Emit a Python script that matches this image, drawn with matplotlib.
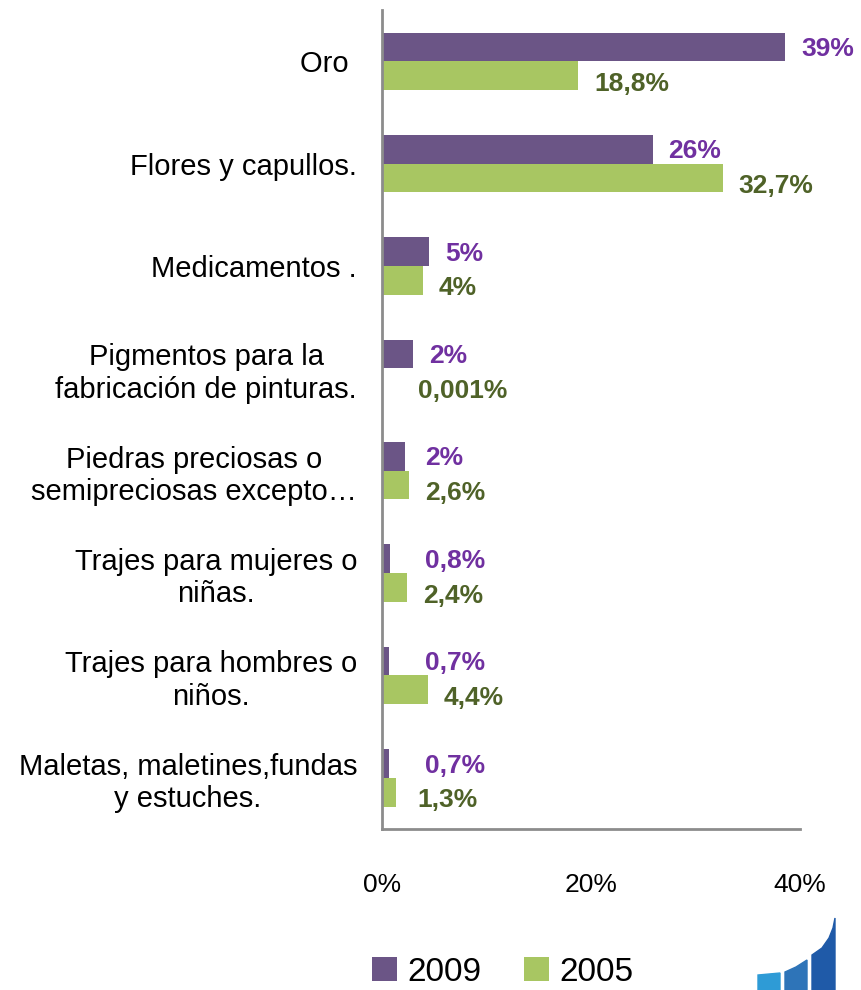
import numpy as np
import matplotlib.pyplot as plt
from matplotlib.patches import Polygon

plt.rcParams['font.family'] = ['Liberation Sans', 'DejaVu Sans']

# data
categorias = ['Oro ', 'Flores y capullos.', 'Medicamentos .',
              'Pigmentos para la\nfabricación de pinturas.',
              'Piedras preciosas o\nsemipreciosas excepto…',
              'Trajes para mujeres o\nniñas.',
              'Trajes para hombres o\nniños.',
              'Maletas, maletines,fundas\ny estuches.']
v2009 = [38.6, 25.9, 4.5, 3.0, 2.2, 0.8, 0.7, 0.7]
v2005 = [18.8, 32.6, 3.9, 0.001, 2.6, 2.4, 4.4, 1.3]
etiq2009 = ['39%', '26%', '5%', '2%', '2%', '0,8%', '0,7%', '0,7%']
etiq2005 = ['18,8%', '32,7%', '4%', '0,001%', '2,6%', '2,4%', '4,4%', '1,3%']
xticks = [0, 20, 40]
xticklabels = ['0%', '20%', '40%']

col09 = '#6B5586'
col05 = '#A8C662'
txt09 = '#7030A0'
txt05 = '#4F6228'

fig = plt.figure(figsize=(8.61, 9.9), dpi=100)
ax = fig.add_axes([0.4437, 0.1626, 0.4855, 0.8273])

y = np.arange(len(categorias))
h = 0.28
b1 = ax.barh(y - h / 2, v2009, height=h, color=col09, label='2009')
b2 = ax.barh(y + h / 2, v2005, height=h, color=col05, label='2005')

for i in range(len(categorias)):
    ax.text(max(v2009[i] + 1.5, 4.1), y[i] - 0.12, etiq2009[i], color=txt09,
            fontsize=19, fontweight='bold', va='center', ha='left')
    ax.text(max(v2005[i] + 1.5, 3.4), y[i] + 0.22, etiq2005[i], color=txt05,
            fontsize=19, fontweight='bold', va='center', ha='left')

ax.set_xlim(0, 40)
ax.set_ylim(len(categorias) - 0.5, -0.5)
ax.set_yticks(y)
ax.set_yticklabels(categorias, fontsize=21, multialignment='center',
                   linespacing=1.2)
ax.set_xticks(xticks)
ax.set_xticklabels(xticklabels, fontsize=19)
ax.tick_params(axis='y', length=0, pad=18)
ax.tick_params(axis='x', length=0, pad=32)

for s in ['top', 'right']:
    ax.spines[s].set_visible(False)
for s in ['left', 'bottom']:
    ax.spines[s].set_color('#8C8C8C')
    ax.spines[s].set_linewidth(2)

fig.legend(handles=[b1, b2], loc='center', bbox_to_anchor=(0.584, 0.018),
           ncol=2, frameon=False, fontsize=24, handlelength=0.75,
           handleheight=0.75, handletextpad=0.3, columnspacing=1.3)

# small logo in the corner
W, H = 861.0, 990.0
def fp(pts):
    return [(px / W, 1 - py / H) for px, py in pts]

fig.patches.append(Polygon(fp([(758, 990), (758, 975), (780, 973), (780, 990)]),
                           closed=True, color='#2E9BD6', transform=fig.transFigure))
fig.patches.append(Polygon(fp([(785, 990), (785, 972), (796, 967), (807, 960), (807, 990)]),
                           closed=True, color='#2E74B8', transform=fig.transFigure))
fig.patches.append(Polygon(fp([(812, 990), (812, 955), (822, 948), (829, 938),
                               (833, 928), (835, 918), (835, 990)]),
                           closed=True, color='#1F5AA8', transform=fig.transFigure))

fig.savefig('out.png', dpi=100)
